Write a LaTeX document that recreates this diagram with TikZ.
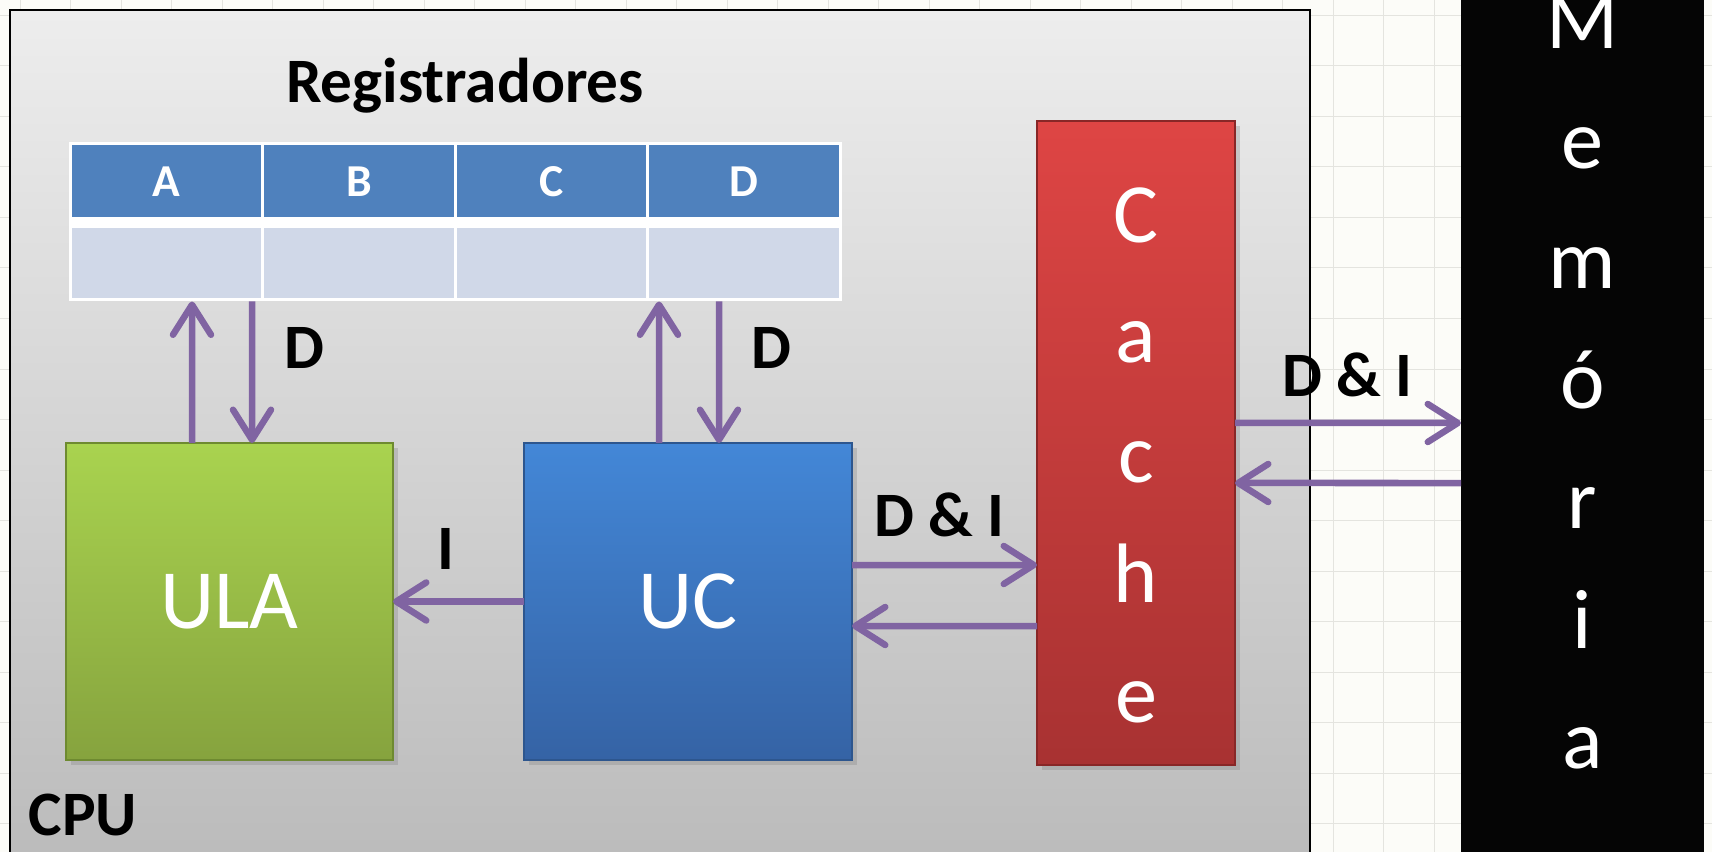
\documentclass[tikz,border=0pt]{standalone}
\usepackage{fontspec}
\setmainfont{Carlito}
\usepackage{tikz}
\usetikzlibrary{positioning}
\usetikzlibrary{calc}
\usetikzlibrary{arrows.meta}
\usetikzlibrary{shadows}
\definecolor{paper}{HTML}{FCFCF8}
\definecolor{gridc}{HTML}{E4E4DF}
\definecolor{flowc}{HTML}{8064A2}
\definecolor{hdrc}{HTML}{4F81BD}
\definecolor{cellc}{HTML}{D0D8E8}
\definecolor{ulatop}{HTML}{A9D34F}
\definecolor{ulabot}{HTML}{86A33E}
\definecolor{ulaedge}{HTML}{6E8A30}
\definecolor{uctop}{HTML}{4387D7}
\definecolor{ucbot}{HTML}{3563A5}
\definecolor{ucedge}{HTML}{2D568E}
\definecolor{cachetop}{HTML}{DE4544}
\definecolor{cachebot}{HTML}{A83232}
\definecolor{cacheedge}{HTML}{882727}
\tikzset{
blk/.style={
  rectangle,
  inner sep=0pt,
  outer sep=0pt,
  text=white,
  font=\fontsize{24}{28}\selectfont,
  drop shadow={shadow xshift=0.05cm,shadow yshift=-0.05cm,opacity=0.3}
  },
hdr/.style={
  rectangle,
  inner sep=0pt,
  minimum width=1.925cm,
  minimum height=0.75cm,
  fill=hdrc,
  draw=white,
  line width=0.03cm,
  text=white,
  font=\bfseries\fontsize{13}{15}\selectfont
  },
cell/.style={hdr,minimum height=0.73cm,fill=cellc},
lbl/.style={
  inner sep=0pt,
  anchor=base,
  font=\bfseries\fontsize{18}{20}\selectfont
  },
flow/.style={
  draw=flowc,
  line width=0.065cm,
  -{Straight Barb[length=0.3cm,width=0.38cm,round]}
  }
}

\begin{document}
\begin{tikzpicture}
        \clip (0,0) rectangle (17.12,-8.52);
        \fill[paper] (0,0) rectangle (17.12,-8.52);
        \draw[gridc,line width=0.01cm,xshift=2mm,yshift=-1.55mm] (-1,-10) grid[step=0.505] (18,1);
        % CPU
        \node[rectangle,draw=black,line width=0.02cm,top color=black!7,bottom color=black!27,minimum width=13cm,minimum height=8.7cm] at (6.6,-4.45) (cpu) {};
        \node[lbl] at (0.83,-8.35) (cpulbl) {CPU};
        % registradores
        \node[lbl] at (4.65,-1.03) (regs) {Registradores};
        \fill[white] (0.685,-1.425) rectangle (8.42,-3.015);
        \node[hdr] at (1.665,-1.815) (ra) {A};
        \node[hdr] at (3.59,-1.815) (rb) {B};
        \node[hdr] at (5.515,-1.815) (rc) {C};
        \node[hdr] at (7.44,-1.815) (rd) {D};
        \node[cell] at (1.665,-2.635) (va) {};
        \node[cell] at (3.59,-2.635) (vb) {};
        \node[cell] at (5.515,-2.635) (vc) {};
        \node[cell] at (7.44,-2.635) (vd) {};
        % blocos
        \node[blk,top color=ulatop,bottom color=ulabot,draw=ulaedge,minimum width=3.27cm,minimum height=3.17cm] at (2.295,-6.015) (ula) {ULA};
        \node[blk,top color=uctop,bottom color=ucbot,draw=ucedge,minimum width=3.28cm,minimum height=3.17cm] at (6.88,-6.015) (uc) {UC};
        \node[blk,top color=cachetop,bottom color=cachebot,draw=cacheedge,minimum width=1.98cm,minimum height=6.44cm] at (11.36,-4.43) (cache) {};
        \node[text=white,inner sep=0pt,align=center,font=\fontsize{24}{34.15}\selectfont] at (11.36,-4.555) (cachetxt) {C\\a\\c\\h\\e};
        \node[rectangle,fill=black!98,inner sep=0pt,outer sep=0pt,minimum width=2.43cm,minimum height=9.5cm,text=white,align=center,font=\fontsize{24}{34.15}\selectfont] at (15.825,-3.815) (mem) {M\\e\\m\\ó\\r\\i\\a};
        % rotulos
        \node[lbl] at (3.04,-3.69) (dl) {D};
        \node[lbl] at (7.71,-3.69) (dr) {D};
        \node[lbl] at (4.46,-5.69) (il) {I};
        \node[lbl] at (9.39,-5.37) (diuc) {D \& I};
        \node[lbl] at (13.47,-3.97) (dimem) {D \& I};
        \path
        ([xshift=-3.75mm]ula.north) edge [flow] ([xshift=2.55mm]va.south)
        ([xshift=8.55mm]va.south) edge [flow] ([xshift=2.25mm]ula.north)
        ([xshift=-2.9mm]uc.north) edge [flow] ([xshift=-8.5mm]vd.south)
        ([xshift=-2.5mm]vd.south) edge [flow] ([xshift=3.1mm]uc.north)
        (uc.west) edge [flow] (ula.east)
        ([yshift=3.65mm]uc.east) edge [flow] ([yshift=-12.2mm]cache.west)
        ([yshift=-18.3mm]cache.west) edge [flow] ([yshift=-2.45mm]uc.east)
        ([yshift=2mm]cache.east) edge [flow] ([yshift=-4.15mm]mem.west)
        ([yshift=-10.15mm]mem.west) edge [flow] ([yshift=-4mm]cache.east)
        ;
    \end{tikzpicture}
\end{document}
